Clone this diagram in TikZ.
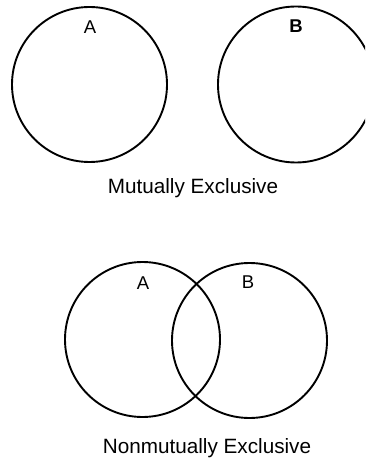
\documentclass[tikz,border=0pt]{standalone}
\usepackage{fontspec}
\setmainfont{Liberation Sans}
\begin{document}
\begin{tikzpicture}[x=1pt,y=-1pt,
  venn/.style={line width=1.9pt,draw=black},
  setlabel/.style={font=\fontsize{18.5}{22}\selectfont,inner sep=0pt},
  caption/.style={font=\fontsize{20.7}{24}\selectfont,inner sep=0pt}]
\useasboundingbox (0,0) rectangle (365,462);
\begin{scope}
\clip (0,0) rectangle (365,462);
\draw[venn] (89.5,84.5) circle (77.5);
\draw[venn] (296,84.5) circle (78);
\draw[venn] (142.5,339.5) circle (77.5);
\draw[venn] (249.5,340.5) circle (77.5);
\end{scope}
\node[setlabel] (a1) at (90,27) {A};
\node[setlabel,font=\fontsize{18.5}{22}\selectfont\bfseries] (b1) at (296,26) {B};
\node[caption] (c1) at (193,188) {Mutually Exclusive};
\node[setlabel] (a2) at (143,283) {A};
\node[setlabel] (b2) at (248,282) {B};
\node[caption] (c2) at (207,448) {Nonmutually Exclusive};
\end{tikzpicture}
\end{document}
